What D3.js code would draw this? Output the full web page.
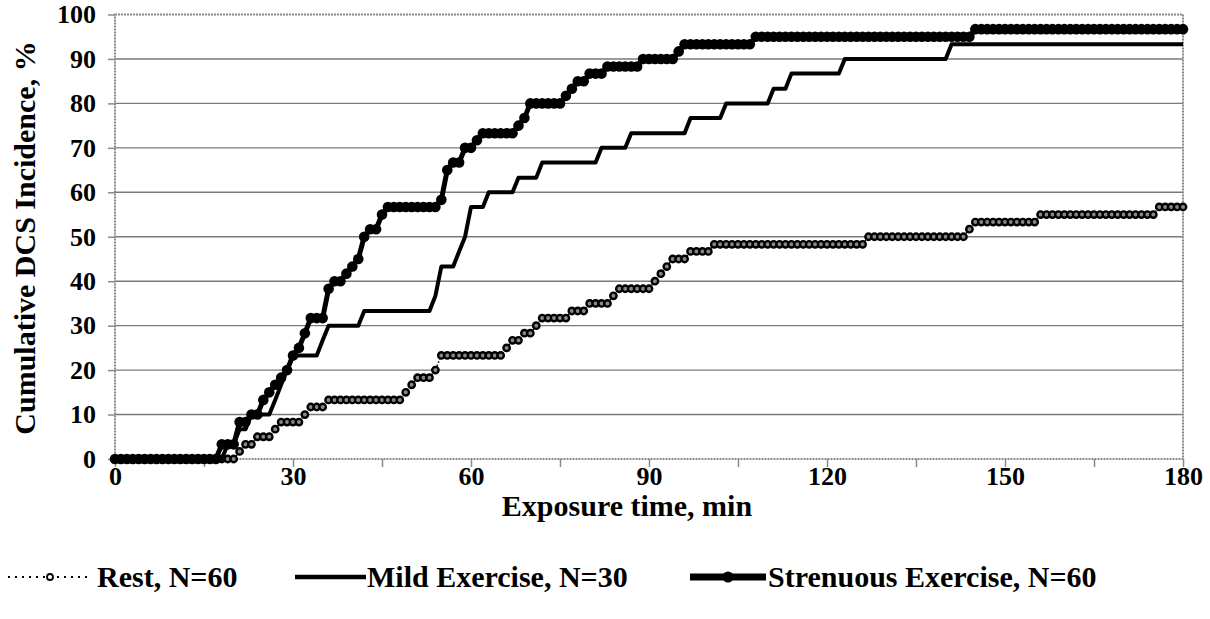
<!DOCTYPE html>
<html>
<head>
<meta charset="utf-8">
<script src="https://cdn.jsdelivr.net/npm/d3@7"></script>
<style>
  body { margin: 0; background: #fff; }
  text { font-family: "Liberation Serif", "Times New Roman", serif; font-weight: bold; fill: #000; }
</style>
</head>
<body>
<svg id="chart" width="1210" height="619"></svg>
<script>
// minute at which the cumulative incidence steps, and the new value (%)
var restTimes  = [0, 21, 22, 24, 27, 28, 32, 33, 36, 49, 50, 51, 54, 55, 66, 67, 69, 71, 72, 77, 80, 84, 85, 91, 92, 93, 94, 97, 101, 127, 144, 145, 156, 176];
var restValues = [0, 1.7, 3.3, 5, 6.7, 8.3, 10, 11.7, 13.3, 15, 16.7, 18.3, 20, 23.3, 25, 26.7, 28.3, 30, 31.7, 33.3, 35, 36.7, 38.3, 40, 41.7, 43.3, 45, 46.7, 48.3, 50, 51.7, 53.3, 55, 56.7];

var mildTimes  = [0, 19, 21, 23, 27, 28, 29, 30, 35, 36, 42, 54, 55, 58, 59, 60, 63, 68, 72, 82, 87, 97, 103, 111, 114, 123, 141];
var mildValues = [0, 3.3, 6.7, 10, 13.3, 16.7, 20, 23.3, 26.7, 30, 33.3, 36.7, 43.3, 46.7, 50, 56.7, 60, 63.3, 66.7, 70, 73.3, 76.7, 80, 83.3, 86.7, 90, 93.3];

var strenTimes  = [0, 18, 21, 23, 25, 26, 27, 28, 29, 30, 31, 32, 33, 36, 37, 39, 40, 41, 42, 43, 45, 46, 55, 56, 57, 59, 61, 62, 68, 69, 70, 76, 77, 78, 80, 83, 89, 95, 96, 108, 145];
var strenValues = [0, 3.3, 8.3, 10, 13.3, 15, 16.7, 18.3, 20, 23.3, 25, 28.3, 31.7, 38.3, 40, 41.7, 43.3, 45, 50, 51.7, 55, 56.7, 58.3, 65, 66.7, 70, 71.7, 73.3, 75, 76.7, 80, 81.7, 83.3, 85, 86.7, 88.3, 90, 91.7, 93.3, 95, 96.7];

var xTicks = [0, 15, 30, 45, 60, 75, 90, 105, 120, 135, 150, 165, 180];
var xLabels = [0, 30, 60, 90, 120, 150, 180];
var yTicks = [0, 10, 20, 30, 40, 50, 60, 70, 80, 90, 100];
var legendLabels = ["Rest, N=60", "Mild Exercise, N=30", "Strenuous Exercise, N=60"];

var svg = d3.select("#chart");
var x = d3.scaleLinear().domain([0, 180]).range([115, 1183]);
var y = d3.scaleLinear().domain([0, 100]).range([459, 14.5]);

// sample a step series once per minute, like the original sheet
function perMinute(times, values) {
    var out = [], j = 0;
    for (var m = 0; m <= 180; m++) {
        while (j + 1 < times.length && times[j + 1] <= m) j++;
        out.push({ t: m, v: values[j] });
    }
    return out;
}

// gridlines
svg.append("g").selectAll("line")
    .data(yTicks.filter(function (d) { return d > 0 && d < 100; }))
    .enter().append("line")
    .attr("x1", x(0)).attr("x2", x(180))
    .attr("y1", function (d) { return y(d); })
    .attr("y2", function (d) { return y(d); })
    .attr("stroke", "#7a7a7a")
    .attr("stroke-width", 1.4);

// plot area border
svg.append("rect")
    .attr("x", x(0)).attr("y", y(100))
    .attr("width", x(180) - x(0)).attr("height", y(0) - y(100))
    .attr("fill", "none")
    .attr("stroke", "#8a8a8a")
    .attr("stroke-width", 2)
    .attr("stroke-dasharray", "2,1");

var yAxis = svg.append("g")
    .attr("transform", "translate(" + x(0) + ",0)")
    .call(d3.axisLeft(y).tickValues(yTicks).tickSize(7).tickPadding(12));
var xAxis = svg.append("g")
    .attr("transform", "translate(0," + y(0) + ")")
    .call(d3.axisBottom(x).tickValues(xTicks).tickSize(8).tickPadding(0)
        .tickFormat(function (d) { return xLabels.indexOf(d) >= 0 ? d : ""; }));

[yAxis, xAxis].forEach(function (ax) {
    ax.select(".domain").remove();
    ax.selectAll(".tick line").attr("stroke", "#8a8a8a").attr("stroke-width", 1.5);
    ax.selectAll(".tick text").style("font-size", "26px");
});

// axis titles
svg.append("text")
    .attr("x", 627).attr("y", 516)
    .attr("text-anchor", "middle")
    .style("font-size", "30px")
    .text("Exposure time, min");

svg.append("text")
    .attr("transform", "translate(35,238) rotate(-90)")
    .attr("text-anchor", "middle")
    .style("font-size", "30px")
    .text("Cumulative DCS Incidence, %");

var line = d3.line()
    .x(function (d) { return x(d.t); })
    .y(function (d) { return y(d.v); });

var rest = perMinute(restTimes, restValues);
var mild = perMinute(mildTimes, mildValues);
var stren = perMinute(strenTimes, strenValues);

// Rest: dotted line with small ring markers
svg.append("path").datum(rest)
    .attr("d", line)
    .attr("fill", "none")
    .attr("stroke", "#000")
    .attr("stroke-width", 1.5)
    .attr("stroke-dasharray", "1.5,2");
svg.append("g").selectAll("circle")
    .data(rest).enter().append("circle")
    .attr("cx", function (d) { return x(d.t); })
    .attr("cy", function (d) { return y(d.v); })
    .attr("r", 3.2)
    .attr("fill", "#888")
    .attr("stroke", "#000")
    .attr("stroke-width", 2.4);

// Mild: plain solid line
svg.append("path").datum(mild)
    .attr("d", line)
    .attr("fill", "none")
    .attr("stroke", "#000")
    .attr("stroke-width", 4)
    .attr("stroke-linejoin", "round");

// Strenuous: heavy line with big filled markers
svg.append("path").datum(stren)
    .attr("d", line)
    .attr("fill", "none")
    .attr("stroke", "#000")
    .attr("stroke-width", 5)
    .attr("stroke-linejoin", "round");
svg.append("g").selectAll("circle")
    .data(stren).enter().append("circle")
    .attr("cx", function (d) { return x(d.t); })
    .attr("cy", function (d) { return y(d.v); })
    .attr("r", 5.3)
    .attr("fill", "#000");

// legend
var legY = 577;
var leg = svg.append("g");
leg.append("line").attr("x1", 8).attr("x2", 92).attr("y1", legY).attr("y2", legY)
    .attr("stroke", "#000").attr("stroke-width", 2).attr("stroke-dasharray", "2,5");
leg.append("circle").attr("cx", 50).attr("cy", legY).attr("r", 3)
    .attr("fill", "#fff").attr("stroke", "#000").attr("stroke-width", 1.8);
leg.append("line").attr("x1", 295).attr("x2", 366).attr("y1", legY).attr("y2", legY)
    .attr("stroke", "#000").attr("stroke-width", 4.5);
leg.append("line").attr("x1", 690).attr("x2", 766).attr("y1", legY).attr("y2", legY)
    .attr("stroke", "#000").attr("stroke-width", 7);
leg.append("circle").attr("cx", 728).attr("cy", legY).attr("r", 5.5).attr("fill", "#000");

var legX = [97, 367, 768];
leg.selectAll("text.lab")
    .data(legendLabels).enter().append("text")
    .attr("class", "lab")
    .attr("x", function (d, i) { return legX[i]; })
    .attr("y", legY + 10)
    .style("font-size", "30px")
    .text(function (d) { return d; });
</script>
</body>
</html>
